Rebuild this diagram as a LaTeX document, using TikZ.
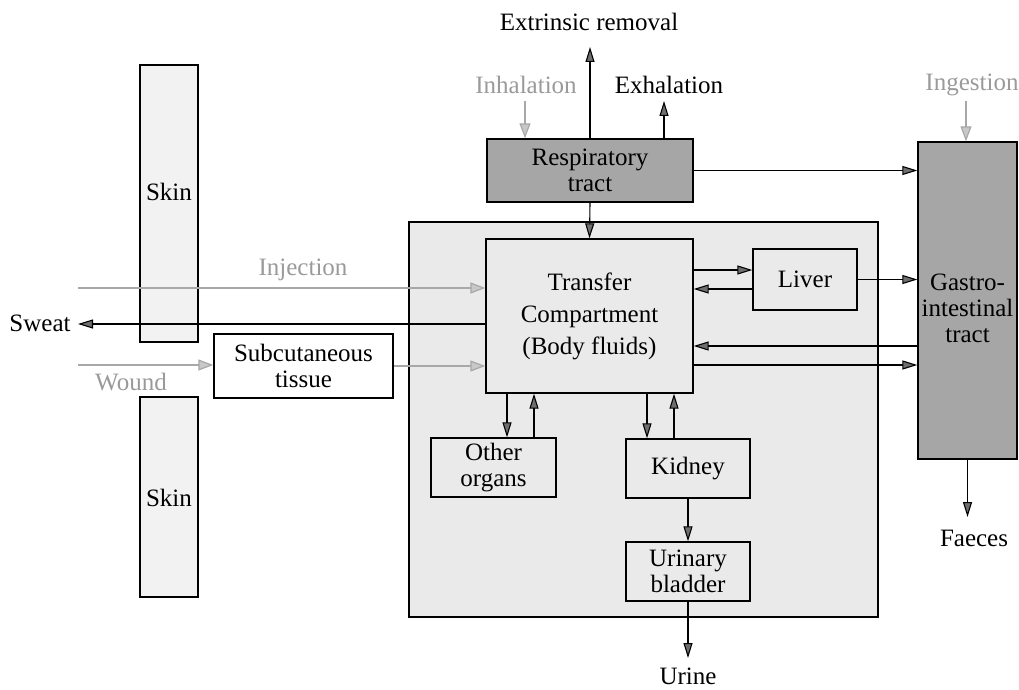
\documentclass[tikz,border=0pt]{standalone}
\usepackage{fontspec}
\setmainfont{LiberationSerif}[Extension=.ttf, UprightFont=*-Regular, BoldFont=*-Bold]
\usetikzlibrary{arrows.meta}
\definecolor{lightfill}{HTML}{EAEAEA}
\definecolor{skinfill}{HTML}{F2F2F2}
\definecolor{darkfill}{HTML}{A6A6A6}
\definecolor{graytext}{HTML}{9A9A9A}
\definecolor{grayline}{HTML}{A8A8A8}
\definecolor{headfill}{HTML}{6E6E6E}
\definecolor{gheadfill}{HTML}{C8C8C8}
\begin{document}
\begin{tikzpicture}[x=1pt,y=-1pt,
  font=\rmfamily\fontsize{25}{26}\selectfont,
  box/.style={draw=black, line width=1.3pt, inner sep=0pt, align=center},
  lbox/.style={box, fill=lightfill},
  sbox/.style={box, fill=skinfill},
  dbox/.style={box, fill=darkfill},
  wbox/.style={box, fill=white},
  lbl/.style={inner sep=0pt},
  glbl/.style={inner sep=0pt, text=graytext},
  arr/.style={draw=black, line width=1.1pt, -{Triangle[length=15pt,width=9pt,fill=headfill]}},
  garr/.style={draw=grayline, line width=1.2pt, -{Triangle[length=15pt,width=11pt,fill=gheadfill]}}
]
\useasboundingbox (0,0) rectangle (1019,690);

% large body box and skin
\node[lbox, minimum width=469pt, minimum height=395pt] (body) at (643.5,419.5) {};
\node[sbox, minimum width=58pt, minimum height=277pt] (skinA) at (169,203.5) {};
\node[lbl] (skinAt) at (169,192) {Skin};
\node[sbox, minimum width=58pt, minimum height=200pt] (skinB) at (169,497) {};
\node[lbl] (skinBt) at (169,498) {Skin};

% boxes
\node[dbox, minimum width=206pt, minimum height=63pt] (resp) at (590,170.5) {Respiratory\\tract};
\node[dbox, minimum width=99pt, minimum height=317pt] (gi) at (967.5,300.5) {};
\node[lbl, align=center] (git) at (967.5,308) {Gastro-\\intestinal\\tract};
\node[lbox, minimum width=207pt, minimum height=154pt, font=\rmfamily\fontsize{25}{32}\selectfont] (tc) at (589.5,316) {Transfer\\Compartment\\(Body fluids)};
\node[lbox, minimum width=104pt, minimum height=61pt] (liver) at (805,279.5) {Liver};
\node[lbox, minimum width=125pt, minimum height=59pt] (other) at (493.5,467.5) {Other\\organs};
\node[lbox, minimum width=124pt, minimum height=59pt] (kidney) at (688,468.5) {Kidney};
\node[lbox, minimum width=124pt, minimum height=59pt] (bladder) at (688,571.5) {Urinary\\bladder};
\node[wbox, minimum width=179pt, minimum height=64pt] (subcut) at (303.5,366) {Subcutaneous\\tissue};

% outside labels
\node[lbl] (extr) at (589,22) {Extrinsic removal};
\node[lbl] (exh) at (669,85) {Exhalation};
\node[glbl] (inh) at (526,85) {Inhalation};
\node[glbl] (ing) at (972,85) {Ingestion};
\node[lbl] (sweat) at (40,323) {Sweat};
\node[lbl] (faeces) at (974,538) {Faeces};
\node[lbl] (urine) at (688,676) {Urine};
\node[glbl] (inj) at (303,270) {Injection};
\node[glbl] (wound) at (131,382) {Wound};

% free ends
\coordinate (extrTip) at (590,47);
\coordinate (exhTip) at (664,101);
\coordinate (inhStart) at (525,101);
\coordinate (ingStart) at (966,101);
\coordinate (faecesTip) at (967.5,517);
\coordinate (urineTip) at (688,658);
\coordinate (sweatTip) at (78,324);
\coordinate (injStart) at (78,288);
\coordinate (woundStart) at (78,365);

% respiratory connections
\draw[arr] (resp.north) -- (extrTip);
\draw[arr] (resp.north -| exhTip) -- (exhTip);
\draw[garr] (inhStart) -- (resp.north -| inhStart);
\draw[arr] (resp.south) -- (tc.north);
\draw[arr] (resp.east) -- (resp.east -| gi.west);

% GI
\draw[garr] (ingStart) -- (gi.north -| ingStart);
\draw[arr] (gi.south) -- (faecesTip);
\draw[arr] (liver.east) -- (liver.east -| gi.west);
\draw[arr] (gi.west |- 0,346) -- (tc.east |- 0,346);
\draw[arr] (tc.east |- 0,365) -- (gi.west |- 0,365);

% liver
\draw[arr] (tc.east |- 0,270) -- (liver.west |- 0,270);
\draw[arr] (liver.west |- 0,289) -- (tc.east |- 0,289);

% other organs and kidney
\draw[arr] (tc.south -| 507,0) -- (other.north -| 507,0);
\draw[arr] (other.north -| 534,0) -- (tc.south -| 534,0);
\draw[arr] (tc.south -| 647,0) -- (kidney.north -| 647,0);
\draw[arr] (kidney.north -| 674,0) -- (tc.south -| 674,0);
\draw[arr] (kidney.south) -- (bladder.north);
\draw[arr] (bladder.south) -- (urineTip);

% left side
\draw[garr] (injStart) -- (tc.west |- injStart);
\draw[arr] (tc.west |- sweatTip) -- (sweatTip);
\draw[garr] (woundStart) -- (subcut.west |- woundStart);
\draw[garr] (subcut.east) -- (subcut.east -| tc.west);
\end{tikzpicture}
\end{document}
